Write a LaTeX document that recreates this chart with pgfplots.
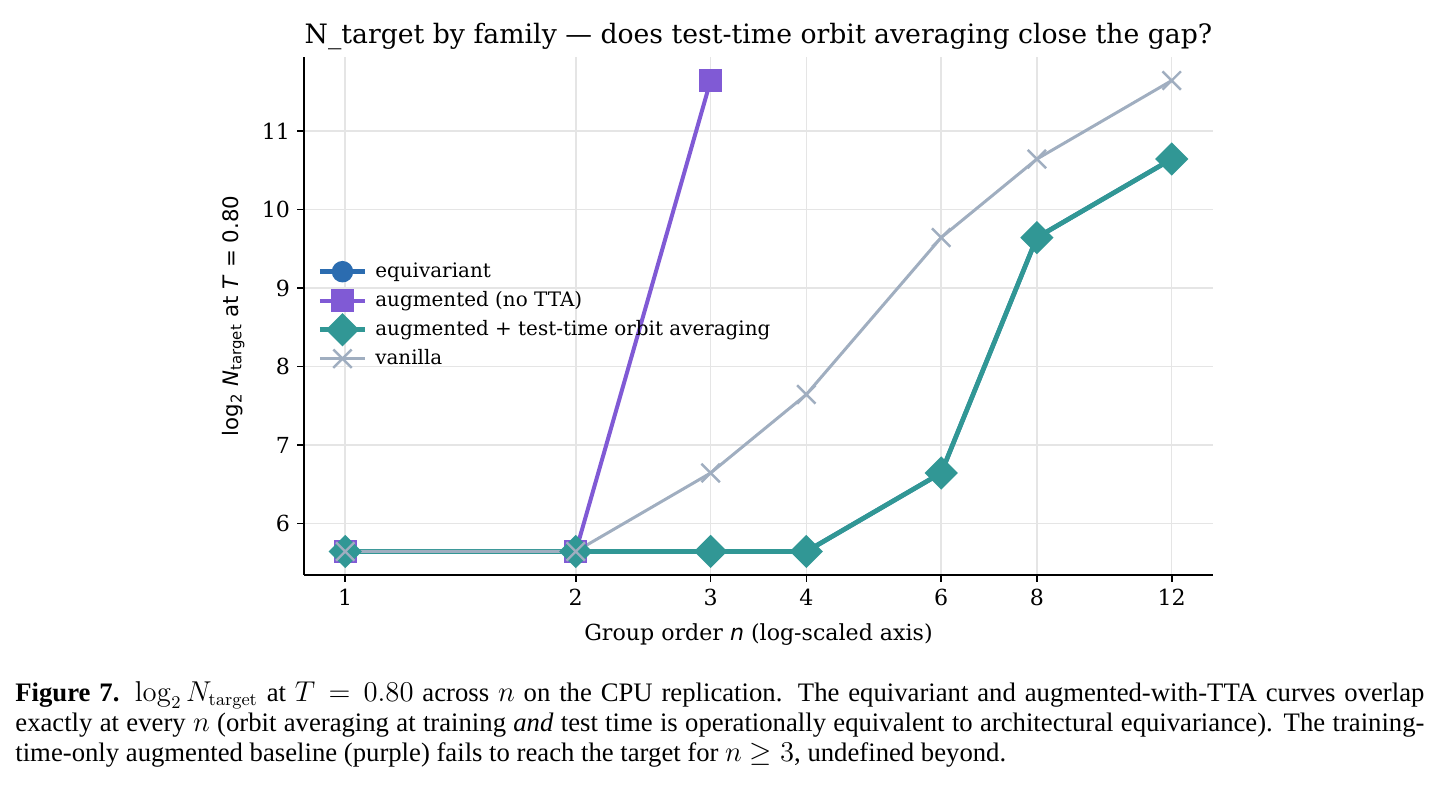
\documentclass[border=0pt]{standalone}
\usepackage[no-math]{fontspec}
\setmainfont{DejaVu Serif}
\newfontfamily\djsans{DejaVu Sans}
\newfontfamily\capfont{Liberation Serif}
\usepackage{pgfplots}
\pgfplotsset{compat=1.18}
\definecolor{cequi}{HTML}{2B6CB0}
\definecolor{caug}{HTML}{805AD5}
\definecolor{ctta}{HTML}{319795}
\definecolor{cvan}{HTML}{A0AEC0}
\definecolor{cgrid}{HTML}{E5E5E5}
\begin{document}
\begin{tikzpicture}
\path[use as bounding box] (0,0) rectangle (719.5bp,392.5bp);
\begin{axis}[
  at={(152bp,105bp)}, anchor=south west,
  scale only axis, width=454.5bp, height=259bp,
  xmode=log, log basis x=10,
  xmin=0.8834, xmax=13.585, ymin=5.344, ymax=11.944,
  xtick={1,2,3,4,6,8,12}, xticklabels={1,2,3,4,6,8,12},
  ytick={6,7,8,9,10,11}, yticklabels={6,7,8,9,10,11},
  minor xtick={}, minor ytick={},
  /pgf/number format/assume math mode=true,
  axis x line*=bottom, axis y line*=left,
  axis line style={line width=0.8bp, -},
  tick align=outside, major tick length=3.5bp,
  tick style={line width=0.8bp, black},
  ticklabel style={font=\fontsize{11.1}{13}\selectfont},
  grid=major, major grid style={cgrid, line width=0.75bp},
  title={N\_target by family — does test-time orbit averaging close the gap?},
  title style={at={(axis description cs:0.5,1)}, anchor=base, yshift=1bp, font=\fontsize{13.4}{15}\selectfont, inner sep=0pt},
  xlabel={Group order {\djsans\itshape n} (log-scaled axis)},
  xlabel style={at={(axis description cs:0.5,0)}, anchor=base, yshift=-33bp, font=\fontsize{11.1}{13}\selectfont, inner sep=0pt},
  ylabel={\djsans log\textsubscript{2} \textit{N}\textsubscript{target} at \textit{T} = 0.80},
  ylabel style={at={(axis description cs:-0.078,0.5)}, anchor=center, rotate=0, font=\fontsize{10.7}{13}\selectfont, inner sep=0pt},
  legend style={at={(axis description cs:0.008,0.622)}, anchor=north west, draw=none, fill=none,
    font=\fontsize{10}{12}\selectfont, nodes={text height=7.5bp, text depth=2bp, inner ysep=2.5bp, inner xsep=4bp}},
  legend cell align=left,
  legend image code/.code={\draw[mark repeat=2,mark phase=2] plot coordinates {(0bp,0bp) (11.25bp,0bp) (22.5bp,0bp)};},
]
\addplot[cequi, line width=2.2bp, mark=*, mark size=4.25bp, mark options={solid, fill=cequi, draw=cequi}]
  coordinates {(1,5.643856) (2,5.643856) (3,5.643856) (4,5.643856) (6,6.643856) (8,9.643856) (12,10.643856)};
\addlegendentry{equivariant}
\addplot[caug, line width=2bp, mark=square*, mark size=4.75bp, mark options={solid, fill=caug, draw=caug}]
  coordinates {(1,5.643856) (2,5.643856) (3,11.643856)};
\addlegendentry{augmented (no TTA)}
\addplot[ctta, line width=2.35bp, mark=square*, mark size=4.7bp, mark options={solid, fill=ctta, draw=ctta, rotate=45}]
  coordinates {(1,5.643856) (2,5.643856) (3,5.643856) (4,5.643856) (6,6.643856) (8,9.643856) (12,10.643856)};
\addlegendentry{augmented + test-time orbit averaging}
\addplot[cvan, line width=1.5bp, mark=x, mark size=6.5bp, mark options={solid, draw=cvan, line width=1.2bp}]
  coordinates {(1,5.643856) (2,5.643856) (3,6.643856) (4,7.643856) (6,9.643856) (8,10.643856) (12,11.643856)};
\addlegendentry{vanilla}
\end{axis}
\begin{scope}[every node/.style={anchor=base west, inner sep=0pt}]
\capfont\fontsize{13.4}{15}\selectfont
\node at (7.5bp,41.75bp) {\hbox to 704.5bp{\textbf{Figure 7.} $\log_2 N_{\mathrm{target}}$ at $T = 0.80$ across $n$ on the CPU replication. The equivariant and augmented-with-TTA curves overlap}};
\node at (7.5bp,26.75bp) {\hbox to 704.5bp{exactly at every $n$ (orbit averaging at training \textit{and} test time is operationally equivalent to architectural equivariance). The training-}};
\node at (7.5bp,11.75bp) {time-only augmented baseline (purple) fails to reach the target for $n \geq 3$, undefined beyond.};
\end{scope}
\end{tikzpicture}
\end{document}
